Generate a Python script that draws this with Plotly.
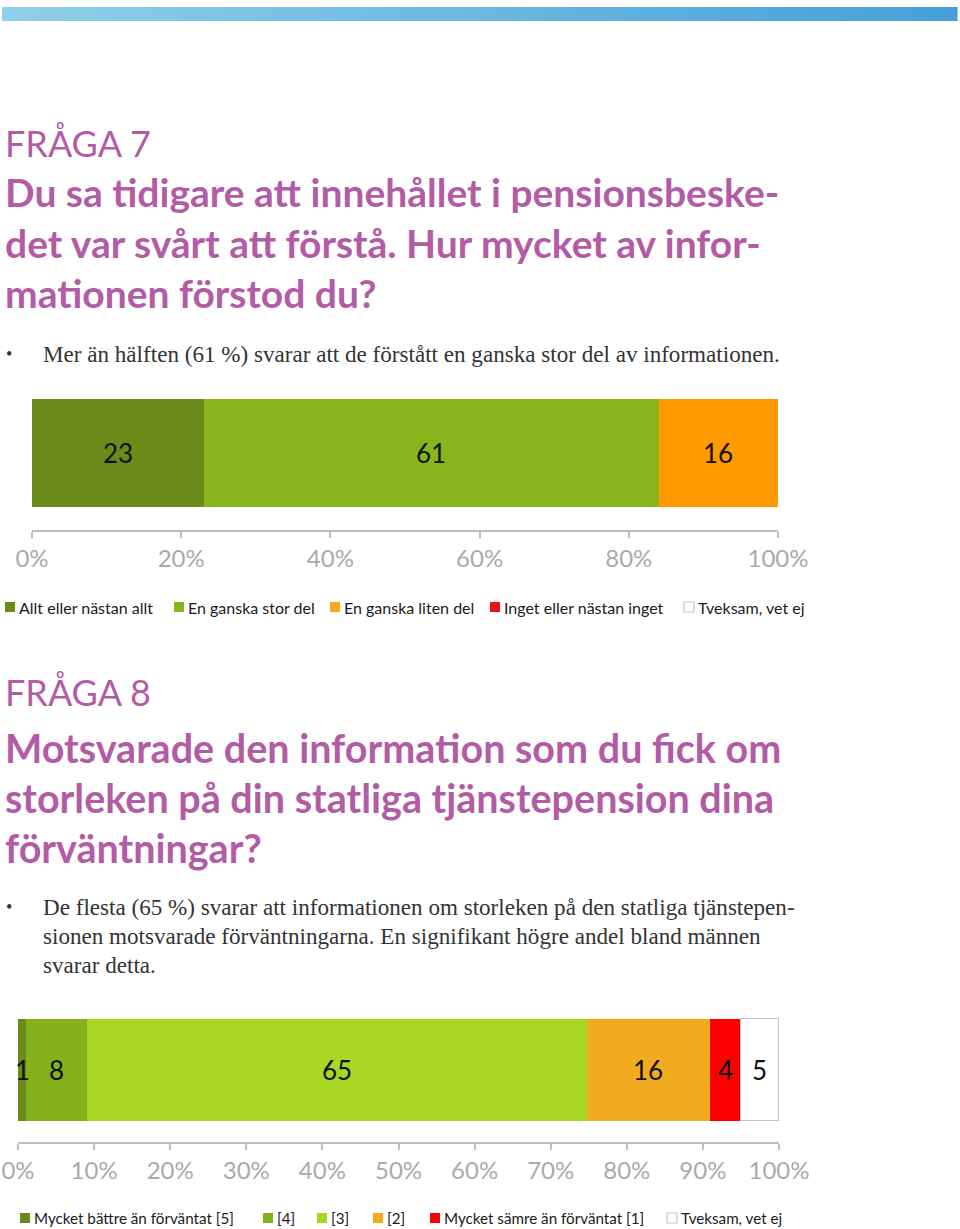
import plotly.graph_objects as go

W, H = 960, 1229

def px(p):
    return p / W

def py(p):
    return 1 - p / H

# ---------------- data ----------------
q7_categories = ["Allt eller nästan allt", "En ganska stor del", "En ganska liten del",
                 "Inget eller nästan inget", "Tveksam, vet ej"]
q7_values = [23, 61, 16, 0, 0]
q7_labels = ["23", "61", "16", "", ""]
q7_colors = ["#6B8A19", "#87B51B", "#FF9900", "#FF0000", "#FFFFFF"]
q7_legend_colors = ["#6B8A19", "#87B51B", "#F4AC1E", "#E8101A", "#FFFFFF"]

q8_categories = ["Mycket bättre än förväntat [5]", "[4]", "[3]", "[2]",
                 "Mycket sämre än förväntat [1]", "Tveksam, vet ej"]
q8_values = [1.1, 8.0, 65.7, 16.1, 4.1, 5.0]
q8_labels = ["1", "8", "65", "16", "4", "5"]
q8_colors = ["#6B8A19", "#84B01B", "#A7D623", "#F2AB1E", "#FF0000", "#FFFFFF"]

q7_ticks = [0, 20, 40, 60, 80, 100]
q8_ticks = [0, 10, 20, 30, 40, 50, 60, 70, 80, 90, 100]

PURPLE = "#B35CA6"
SANS = "Lato, 'Open Sans', sans-serif"
SERIF = "'Liberation Serif', 'DejaVu Serif', serif"

fig = go.Figure()

# ---------------- bars ----------------
for cat, val, col in zip(q7_categories, q7_values, q7_colors):
    fig.add_trace(go.Bar(
        x=[val], y=[0], orientation="h", width=1, name=cat,
        marker=dict(color=col, line=dict(width=0)),
        xaxis="x", yaxis="y", showlegend=False, hoverinfo="skip"))

for cat, val, col in zip(q8_categories, q8_values, q8_colors):
    border = dict(width=1.5, color="#C4C4C4") if col == "#FFFFFF" else dict(width=0)
    fig.add_trace(go.Bar(
        x=[val], y=[0], orientation="h", width=1, name=cat,
        marker=dict(color=col, line=border),
        xaxis="x2", yaxis="y2", showlegend=False, hoverinfo="skip"))

annotations = []

def seg_labels(values, labels, xref, yref):
    cum = 0
    for v, lab in zip(values, labels):
        if lab:
            annotations.append(dict(
                x=cum + v / 2, y=0, xref=xref, yref=yref, text=lab, showarrow=False,
                font=dict(family=SANS, size=26, color="#111111"),
                xanchor="center", yanchor="middle"))
        cum += v

seg_labels(q7_values, q7_labels, "x", "y")
seg_labels(q8_values, q8_labels, "x2", "y2")

axis_common = dict(
    range=[0, 100], showgrid=False, zeroline=False, showline=True,
    linecolor="#BDBDBD", linewidth=1.5, ticks="outside", ticklen=6,
    tickcolor="#BDBDBD", tickwidth=1.5, automargin=False,
    tickfont=dict(family=SANS, size=24, color="#AAAAAA"), fixedrange=True)

fig.update_layout(
    width=W, height=H, autosize=False,
    margin=dict(l=0, r=0, t=0, b=0, pad=0, autoexpand=False),
    paper_bgcolor="white", plot_bgcolor="rgba(0,0,0,0)",
    barmode="stack", bargap=0, showlegend=False,
    xaxis=dict(domain=[px(32), px(778)], anchor="y",
               tickvals=q7_ticks, ticktext=[f"{t}%" for t in q7_ticks], **axis_common),
    yaxis=dict(domain=[py(530), py(399)], range=[-0.713, 0.5], visible=False,
               anchor="x", fixedrange=True, automargin=False),
    xaxis2=dict(domain=[px(18), px(779)], anchor="y2",
                tickvals=q8_ticks, ticktext=[f"{t}%" for t in q8_ticks], **axis_common),
    yaxis2=dict(domain=[py(1142), py(1017)], range=[-0.706, 0.52], visible=False,
                anchor="x2", fixedrange=True, automargin=False),
)

# ---------------- top gradient band ----------------
shapes = []
n = 60
x0, x1 = 2, 957
c0 = (0x90, 0xCF, 0xEA)
c1 = (0x45, 0xA0, 0xD8)
for i in range(n):
    t = i / (n - 1)
    c = tuple(round(a + (b - a) * t) for a, b in zip(c0, c1))
    shapes.append(dict(
        type="rect", xref="paper", yref="paper",
        x0=px(x0 + (x1 - x0) * i / n), x1=px(x0 + (x1 - x0) * (i + 1) / n + 0.6),
        y0=py(21), y1=py(7), line=dict(width=0),
        fillcolor=f"rgb({c[0]},{c[1]},{c[2]})"))

# ---------------- texts ----------------
def text(x, y, s, size, color, family=SANS, bold=False):
    annotations.append(dict(
        x=px(x), y=py(y), xref="paper", yref="paper", text=f"<b>{s}</b>" if bold else s,
        showarrow=False, xanchor="left", yanchor="middle",
        font=dict(family=family, size=size, color=color)))

BODY = 23.1
text(3, 143, "FRÅGA 7", 36, PURPLE)
text(3, 192, "Du sa tidigare att innehållet i pensionsbeske-", 39, PURPLE, bold=True)
text(3, 243, "det var svårt att förstå. Hur mycket av infor-", 39, PURPLE, bold=True)
text(3, 293, "mationen förstod du?", 39, PURPLE, bold=True)
text(4, 354, "•", 18, "#333333", SERIF)
text(41, 354, "Mer än hälften (61 %) svarar att de förstått en ganska stor del av informationen.",
     BODY, "#333333", SERIF)

text(3, 692, "FRÅGA 8", 36, PURPLE)
text(3, 747, "Motsvarade den information som du fick om", 39.5, PURPLE, bold=True)
text(3, 797, "storleken på din statliga tjänstepension dina", 39.5, PURPLE, bold=True)
text(3, 847, "förväntningar?", 39.5, PURPLE, bold=True)
text(4, 907, "•", 18, "#333333", SERIF)
text(41, 907, "De flesta (65 %) svarar att informationen om storleken på den statliga tjänstepen-",
     BODY, "#333333", SERIF)
text(41, 936, "sionen motsvarade förväntningarna. En signifikant högre andel bland männen",
     BODY, "#333333", SERIF)
text(41, 965, "svarar detta.", BODY, "#333333", SERIF)

# ---------------- manual legends ----------------
def legend(items, colors, xs, y, size):
    for name, col, x in zip(items, colors, xs):
        border = dict(width=1.2, color="#C4C4C4") if col == "#FFFFFF" else dict(width=0)
        shapes.append(dict(type="rect", xref="paper", yref="paper",
                           x0=px(x), x1=px(x + 10), y0=py(y + 5), y1=py(y - 5),
                           fillcolor=col, line=border))
        text(x + 12, y, name, size, "#1A1A1A")

legend(q7_categories, q7_legend_colors, [5, 174, 330, 490, 684], 607, 16)
legend(q8_categories, q8_colors, [20, 263, 317, 373, 430, 667], 1218, 15.2)

fig.update_layout(shapes=shapes, annotations=annotations)
fig.write_html("out.html", config={"responsive": False, "displayModeBar": False},
               post_script="document.body.style.margin='0';document.body.style.overflow='hidden';")
